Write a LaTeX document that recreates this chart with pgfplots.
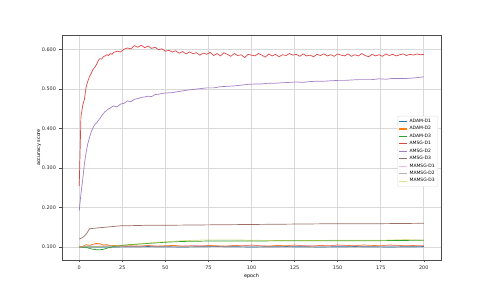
\documentclass[border=0pt]{standalone}
\usepackage{fontspec}
\setmainfont{DejaVu Sans}
\usepackage{pgfplots}
\pgfplotsset{compat=1.18}
\definecolor{c0}{HTML}{1F77B4}
\definecolor{c1}{HTML}{FF7F0E}
\definecolor{c2}{HTML}{2CA02C}
\definecolor{c3}{HTML}{D62728}
\definecolor{c4}{HTML}{9467BD}
\definecolor{c5}{HTML}{8C564B}
\definecolor{c6}{HTML}{E377C2}
\definecolor{c7}{HTML}{7F7F7F}
\definecolor{c8}{HTML}{BCBD22}
\begin{document}
\begin{tikzpicture}
\path (0,0) rectangle (490pt,294pt);
\begin{axis}[at={(62pt,34pt)}, anchor=south west, width=379pt, height=225pt, scale only axis,
  xmin=-10, xmax=210, ymin=0.067, ymax=0.637,
  xtick={0,25,...,200},
  ytick={0.1,0.2,0.3,0.4,0.5,0.6},
  yticklabel style={/pgf/number format/fixed, /pgf/number format/precision=3, /pgf/number format/fixed zerofill},
  /pgf/number format/assume math mode=true,
  tick label style={font=\fontsize{4.9}{5.5}\selectfont, color=black!85},
  label style={font=\fontsize{4.9}{5.5}\selectfont},
  xlabel={epoch}, ylabel={accuracy score},
  xlabel shift=-3pt, ylabel shift=-6pt,
  grid=major, major grid style={color=gray!30, line width=0.6pt},
  axis line style={color=black!70, line width=0.6pt},
  tick align=outside, xtick pos=bottom, ytick pos=left,
  major tick length=2.5pt, tick style={color=black!70, line width=0.5pt},
  legend style={at={(0.992,0.64)}, anchor=north east, font=\fontsize{4.5}{5}\selectfont,
    draw=gray!25, rounded corners=1pt, inner sep=1pt, row sep=-1.4pt},
  legend cell align=left,
  legend image code/.code={\draw[mark repeat=2,mark phase=2,#1] (0pt,0pt) -- (8pt,0pt);},
  legend image post style={line width=1.1pt},
  every axis plot/.append style={line width=0.7pt},
]
\addplot[color=c0] coordinates {(0,0.100) (10,0.100) (20,0.100) (40,0.101) (60,0.100) (80,0.101) (100,0.100) (120,0.101) (140,0.100) (160,0.101) (180,0.100) (200,0.101)};
\addlegendentry{ADAM-D1}
\addplot[color=c1] coordinates {(0,0.100) (2,0.101) (4,0.106) (6,0.104) (8,0.107) (10,0.109) (12,0.108) (14,0.105) (16,0.106) (18,0.103) (20,0.104) (25,0.102) (30,0.103) (35,0.102) (40,0.104) (45,0.102) (50,0.103) (55,0.104) (60,0.102) (65,0.103) (70,0.102) (75,0.104) (80,0.103) (85,0.102) (90,0.104) (95,0.103) (100,0.105) (105,0.103) (110,0.102) (115,0.104) (120,0.103) (125,0.105) (130,0.103) (135,0.102) (140,0.104) (145,0.103) (150,0.105) (155,0.104) (160,0.103) (165,0.105) (170,0.104) (175,0.103) (180,0.105) (185,0.104) (190,0.103) (195,0.104) (200,0.104)};
\addlegendentry{ADAM-D2}
\addplot[color=c2] coordinates {(0,0.100) (4,0.099) (7,0.095) (10,0.093) (12,0.093) (14,0.094) (17,0.098) (20,0.101) (25,0.104) (30,0.106) (40,0.109) (50,0.112) (60,0.114) (75,0.115) (100,0.115) (125,0.116) (150,0.116) (175,0.116) (200,0.117)};
\addlegendentry{ADAM-D3}
\addplot[color=c3, opacity=0.85] coordinates {(0,0.255) (1,0.43) (2,0.458) (3,0.474) (4,0.505) (5,0.52) (6,0.532) (7,0.54) (8,0.55) (9,0.555) (10,0.562) (11,0.572) (12,0.577) (13,0.576) (14,0.582) (15,0.584) (16,0.587) (17,0.585) (18,0.59) (19,0.588) (20,0.593) (22,0.596) (24,0.594) (26,0.601) (28,0.604) (30,0.602) (32,0.610) (34,0.606) (36,0.611) (38,0.605) (40,0.609) (42,0.603) (44,0.606) (46,0.600) (48,0.602) (50,0.596) (52,0.598) (54,0.594) (56,0.597) (58,0.591) (60,0.595) (62,0.589) (64,0.594) (66,0.590) (68,0.592) (70,0.586) (72,0.591) (74,0.588) (76,0.593) (78,0.585) (80,0.590) (82,0.584) (84,0.592) (86,0.588) (88,0.583) (90,0.590) (92,0.585) (94,0.587) (96,0.580) (98,0.588) (100,0.586) (102,0.584) (104,0.590) (106,0.586) (108,0.581) (110,0.589) (112,0.584) (114,0.588) (116,0.582) (118,0.587) (120,0.585) (122,0.590) (124,0.586) (126,0.588) (128,0.583) (130,0.589) (132,0.584) (134,0.586) (136,0.582) (138,0.588) (140,0.585) (142,0.589) (144,0.584) (146,0.587) (148,0.583) (150,0.589) (152,0.586) (154,0.584) (156,0.589) (158,0.583) (160,0.587) (162,0.584) (164,0.590) (166,0.585) (168,0.582) (170,0.588) (172,0.584) (174,0.587) (176,0.583) (178,0.589) (180,0.585) (182,0.588) (184,0.584) (186,0.587) (188,0.589) (190,0.585) (192,0.588) (194,0.586) (196,0.589) (198,0.587) (200,0.588)};
\addlegendentry{AMSG-D1}
\addplot[color=c4, opacity=0.85] coordinates {(0,0.192) (1,0.235) (2,0.27) (3,0.31) (4,0.34) (5,0.362) (6,0.378) (7,0.392) (8,0.402) (9,0.41) (10,0.414) (11,0.42) (12,0.425) (13,0.432) (14,0.438) (15,0.443) (16,0.446) (17,0.45) (18,0.452) (19,0.455) (20,0.457) (22,0.455) (24,0.462) (26,0.464) (28,0.47) (30,0.468) (32,0.474) (34,0.476) (36,0.479) (38,0.48) (40,0.482) (42,0.481) (44,0.486) (46,0.487) (48,0.489) (50,0.49) (54,0.491) (58,0.494) (62,0.497) (66,0.499) (70,0.501) (74,0.503) (78,0.503) (82,0.506) (86,0.507) (90,0.508) (94,0.510) (98,0.512) (102,0.513) (106,0.513) (110,0.515) (114,0.515) (118,0.516) (122,0.517) (126,0.518) (130,0.517) (134,0.519) (138,0.520) (142,0.520) (146,0.521) (150,0.522) (154,0.522) (158,0.523) (162,0.524) (166,0.524) (170,0.524) (174,0.526) (178,0.525) (182,0.527) (186,0.527) (190,0.527) (194,0.528) (198,0.530) (200,0.531)};
\addlegendentry{AMSG-D2}
\addplot[color=c5, opacity=0.85] coordinates {(0,0.12) (2,0.124) (4,0.132) (6,0.146) (8,0.147) (10,0.148) (15,0.150) (20,0.152) (25,0.154) (30,0.154) (40,0.155) (50,0.155) (75,0.156) (100,0.157) (125,0.158) (150,0.159) (175,0.159) (200,0.160)};
\addlegendentry{AMSG-D3}
\addplot[color=c6, opacity=0.5] coordinates {(0,0.100) (5,0.103) (10,0.106) (15,0.104) (20,0.103) (30,0.102) (40,0.103) (50,0.102) (60,0.103) (70,0.104) (80,0.102) (90,0.103) (100,0.104) (110,0.103) (120,0.102) (130,0.104) (140,0.103) (150,0.104) (160,0.103) (170,0.102) (180,0.104) (190,0.103) (200,0.103)};
\addlegendentry{MAMSG-D1}
\addplot[color=c7, opacity=0.6] coordinates {(0,0.100) (20,0.100) (40,0.100) (60,0.100) (80,0.101) (100,0.100) (120,0.100) (140,0.100) (160,0.100) (180,0.100) (200,0.100)};
\addlegendentry{MAMSG-D2}
\addplot[color=c8, opacity=0.5] coordinates {(0,0.100) (10,0.101) (20,0.103) (30,0.106) (40,0.110) (50,0.113) (60,0.116) (75,0.118) (90,0.118) (100,0.117) (125,0.116) (150,0.117) (175,0.117) (190,0.119) (200,0.117)};
\addlegendentry{MAMSG-D3}
\end{axis}
\end{tikzpicture}
\end{document}
